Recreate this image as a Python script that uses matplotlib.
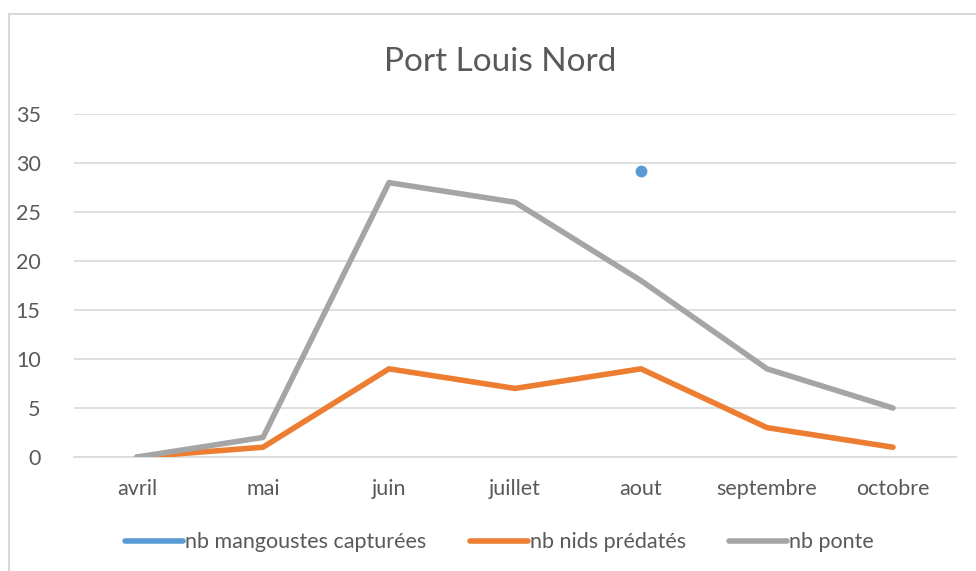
import numpy as np
import matplotlib.pyplot as plt
from matplotlib.lines import Line2D

months = ["avril", "mai", "juin", "juillet", "aout", "septembre", "octobre"]
mangoustes = [np.nan, np.nan, np.nan, np.nan, 29.2, np.nan, np.nan]
nids_predates = [0, 1, 9, 7, 9, 3, 1]
ponte = [0, 2, 28, 26, 18, 9, 5]

plt.rcParams["font.family"] = ["Lato", "DejaVu Sans"]

fig = plt.figure(figsize=(9.76, 5.71), dpi=100)
ax = fig.add_axes([0.0758, 0.1996, 0.9037, 0.6007])

x = np.arange(len(months))
ax.plot(x, mangoustes, color="#5B9BD5", lw=4, marker="o", ms=7.5,
        solid_capstyle="round", label="nb mangoustes capturées", zorder=3)
ax.plot(x, nids_predates, color="#ED7D31", lw=4,
        solid_capstyle="round", label="nb nids prédatés", zorder=4)
ax.plot(x, ponte, color="#A5A5A5", lw=4,
        solid_capstyle="round", label="nb ponte", zorder=5)

ax.set_xlim(-0.5, len(months) - 0.5)
ax.set_ylim(0, 35)
ax.set_yticks(range(0, 36, 5))
ax.set_xticks(x)
ax.set_xticklabels(months)
ax.tick_params(length=0, labelsize=15.5, colors="#595959")
ax.tick_params(axis="y", pad=24)
ax.tick_params(axis="x", pad=16)
ax.grid(axis="y", color="#D9D9D9", lw=1.2)
ax.set_axisbelow(True)
for s in ["top", "right", "left"]:
    ax.spines[s].set_visible(False)
ax.spines["bottom"].set_color("#D9D9D9")
ax.spines["bottom"].set_linewidth(1.2)

fig.text(0.512, 0.892, "Port Louis Nord", ha="center", va="center",
         fontsize=24, color="#595959")

handles = [Line2D([], [], color="#5B9BD5", lw=4, solid_capstyle="round"),
           Line2D([], [], color="#ED7D31", lw=4, solid_capstyle="round"),
           Line2D([], [], color="#A5A5A5", lw=4, solid_capstyle="round")]
fig.legend(handles, ["nb mangoustes capturées", "nb nids prédatés", "nb ponte"],
           loc="center", bbox_to_anchor=(0.512, 0.05), ncol=3, frameon=False,
           fontsize=15.5, labelcolor="#595959", handlelength=2.7,
           handletextpad=0.1, columnspacing=2.0)

# chart area border (cropped on the right and bottom)
fig.add_artist(Line2D([0.009, 0.009], [0, 1 - 14 / 571], color="#D9D9D9", lw=1.5))
fig.add_artist(Line2D([0.009, 1], [1 - 14 / 571, 1 - 14 / 571], color="#D9D9D9", lw=1.5))

fig.savefig("out.png", dpi=100)
